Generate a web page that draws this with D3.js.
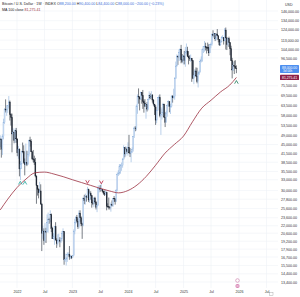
<!DOCTYPE html>
<html><head><meta charset="utf-8">
<script src="https://cdn.jsdelivr.net/npm/d3@7/dist/d3.min.js"></script>
<style>body{margin:0;background:#fff}svg{display:block;font-family:"Liberation Sans",Arial,sans-serif}</style>
</head><body><svg id="c" width="300" height="297"></svg>
<script>
// ---- data (prices in thousands USD, weekly bars starting Monday 2021-09-13) ----
const startWeek = "2021-09-13";
const firstOpen = 46.0;
const high = [
 48.8,47.3,49.2,56.5,62.0,67.0,63.7,63.5,69.0,66.3,59.3,59.1,51.9,50.6,51.9,52.1,
 47.5,44.5,43.5,38.9,42.6,45.8,44.7,39.8,45.4,42.6,42.4,46.9,48.2,47.2,42.4,42.9,40.8,40.0,34.3,31.3,30.6,32.4,31.7,26.9,22.0,21.5,22.5,21.6,24.3,24.7,23.6,25.2,24.5,21.8,20.6,21.8,22.7,19.7,20.4,20.5,19.9,19.7,21.0,21.5,21.0,17.2,16.7,17.4,17.4,18.4,17.0,16.9,
 17.0,21.3,23.4,23.9,24.2,23.4,25.2,25.2,23.9,22.6,28.4,28.9,29.2,28.8,31.0,30.5,30.0,29.8,28.7,27.7,28.2,28.4,27.4,26.7,31.4,31.3,31.5,31.8,30.4,30.0,30.0,30.2,29.7,26.8,28.2,26.1,27.0,27.5,28.0,28.6,27.9,30.4,35.2,35.9,37.9,37.9,38.4,40.0,44.7,43.4,44.4,43.8,
 45.9,49.0,43.6,42.8,43.9,48.5,52.8,52.9,64.0,70.0,73.8,68.9,71.7,71.3,72.8,66.9,67.1,64.7,65.5,67.4,71.9,70.6,72.0,70.2,67.2,64.0,63.8,61.0,68.4,69.4,70.0,62.7,61.8,65.0,64.5,59.8,60.7,64.1,66.5,65.5,64.5,69.4,69.5,73.6,81.5,93.5,99.6,98.7,104.0,105.0,108.3,99.9,99.0,
 102.7,106.4,109.6,106.5,102.5,98.8,99.5,96.5,94.4,85.3,87.5,88.8,88.5,86.1,86.5,95.8,97.9,104.9,106.7,112.0,110.4,106.8,110.5,108.9,108.5,110.5,119.5,123.2,120.2,119.8,119.3,124.5,117.6,113.6,113.4,116.8,117.9,115.4,125.7,126.2,116.0,113.9,116.4,110.8,107.5,96.6,93.0,94.2,94.6,90.4
];
const low = [
 44.0,40.1,41.0,47.1,54.0,59.7,58.0,59.5,62.3,55.6,53.2,42.0,46.8,45.5,45.6,45.7,
 40.6,39.7,34.0,32.9,36.3,41.7,38.0,34.3,37.4,37.2,37.6,40.5,44.2,42.1,39.2,38.5,37.6,33.7,26.7,28.7,28.0,29.3,26.6,17.6,19.6,18.6,19.0,18.9,20.8,20.7,22.4,22.7,20.8,19.6,19.5,18.6,19.3,18.1,18.5,19.1,18.2,18.9,19.2,20.0,15.6,16.0,15.5,16.0,16.9,16.3,16.4,16.4,
 16.6,16.9,20.4,22.3,22.6,21.4,21.5,22.8,21.9,19.6,21.9,26.6,26.5,27.2,28.2,27.1,26.9,27.7,25.8,26.4,25.9,26.6,25.4,24.8,26.3,29.5,29.7,30.0,29.5,28.9,28.6,28.8,25.2,25.8,25.4,25.4,24.9,26.1,26.0,27.2,26.5,27.1,29.8,34.1,34.5,34.8,35.7,36.7,39.5,40.2,40.5,41.5,
 40.8,41.7,40.3,38.5,41.8,42.3,47.7,50.6,50.9,59.0,64.5,60.8,66.7,64.5,61.6,59.6,62.8,56.5,60.2,60.8,66.6,67.1,68.5,65.1,63.4,58.4,53.5,54.3,60.6,63.5,57.2,49.0,56.1,57.8,57.2,52.5,54.6,57.5,62.7,59.8,58.9,62.4,65.1,67.5,66.8,80.2,89.4,90.8,94.0,94.2,92.1,92.6,91.2,
 91.2,89.3,99.5,97.7,91.2,94.1,93.4,78.2,80.1,76.6,81.2,81.6,77.2,74.4,83.0,85.1,92.8,93.4,100.8,102.0,103.1,100.4,102.7,98.2,100.9,105.1,107.5,115.7,114.7,112.0,112.7,116.8,110.7,107.3,107.3,110.6,114.4,108.6,111.9,104.0,103.5,106.9,106.3,98.9,94.0,80.6,86.1,83.8,87.6,84.4
];
const close = [
 47.3,43.2,48.2,54.7,61.5,61.0,61.3,63.3,65.5,58.6,57.2,49.4,50.1,46.7,50.8,47.3,
 41.9,43.1,36.3,37.9,42.4,42.2,38.4,37.7,38.4,37.8,41.3,46.8,46.4,42.2,39.7,39.5,38.5,34.1,31.3,30.3,29.4,29.9,26.6,20.6,21.0,19.3,20.9,20.8,22.6,23.3,23.2,24.3,21.5,19.6,20.0,21.8,19.4,18.8,19.3,19.4,19.2,19.6,20.6,20.9,16.3,16.3,16.4,17.1,17.1,16.7,16.8,16.6,
 16.9,20.9,22.7,23.7,22.9,21.8,24.6,23.6,22.4,22.1,28.0,27.5,28.5,28.3,30.3,27.6,29.2,28.7,26.9,26.8,28.1,27.1,25.9,26.3,30.5,30.6,30.2,30.3,29.8,29.3,29.0,29.4,26.1,26.0,25.9,25.8,26.5,26.3,28.0,27.9,27.2,30.0,34.5,35.0,37.0,37.4,37.5,39.5,43.8,41.4,43.0,42.3,
 43.9,41.8,41.6,42.1,43.0,48.3,52.1,51.7,63.1,68.9,68.4,67.2,71.3,69.4,65.7,64.9,63.1,63.9,61.5,66.9,69.3,67.8,69.6,66.6,64.3,62.7,55.8,60.8,68.2,68.2,58.1,58.7,59.5,64.2,57.3,54.8,59.1,63.6,65.6,62.8,62.9,69.0,67.9,68.8,80.4,89.9,97.9,97.3,101.1,104.3,95.1,93.7,98.3,
 94.5,101.3,102.6,97.7,96.5,96.1,96.2,94.3,80.7,82.6,86.1,82.4,78.4,83.8,85.1,93.8,94.3,104.1,106.5,107.0,105.8,105.7,105.6,100.9,108.4,108.9,119.1,117.3,119.4,114.2,119.3,117.4,113.5,108.3,111.2,115.3,115.3,112.2,123.5,115.1,108.6,114.5,110.6,104.7,94.3,86.8,90.4,89.4,88.2,88.0
];
// moving-average line
const maDates = ["2021-09-13","2021-11-01","2022-01-01","2022-03-01","2022-05-01","2022-07-01","2022-09-01","2022-11-01","2023-01-01","2023-03-01","2023-05-01","2023-07-01","2023-09-01","2023-11-01","2024-01-01","2024-03-01","2024-05-01","2024-07-01","2024-09-01","2024-11-01","2025-01-01","2025-03-01","2025-05-01","2025-07-01","2025-09-01","2025-11-01","2025-12-15"];
const maValues = [25.3,27.8,30.8,33.2,35.1,35.3,34.7,33.9,33.0,32.2,31.4,30.6,29.9,29.4,30.0,31.5,34.0,37.5,41.7,45.0,48.5,55.0,62.0,66.5,71.5,76.0,81.3];
// signal markers
const upMarkDates = ["2022-02-07"]; const upMarkValues = [32.1];
const downMarkDates = ["2023-04-10","2023-07-10"]; const downMarkValues = [32.4,32.3];
const lastUpDates = ["2025-12-15"]; const lastUpValues = [78.0];
// axis ticks
const priceTicks = [146,134,124,113,104,96.5,75.5,69.5,63.5,58,53.5,49,45,41.5,38.5,35.5,33,30,27.8,25.6,23.6,22,20.6,19.2,17.9,16.7,15.5,14.4,13.4];
const priceLabels = ["146,000.00","134,000.00","124,000.00","113,000.00","104,000.00","96,500.00","75,500.00","69,500.00","63,500.00","58,000.00","53,500.00","49,000.00","45,000.00","41,500.00","38,500.00","35,500.00","33,000.00","30,000.00","27,800.00","25,600.00","23,600.00","22,000.00","20,600.00","19,200.00","17,900.00","16,700.00","15,500.00","14,400.00","13,400.00"];
const timeTickDates = ["2022-01-01","2022-07-01","2023-01-01","2023-07-01","2024-01-01","2024-07-01","2025-01-01","2025-07-01","2026-01-01","2026-07-01"];
const timeLabels = ["2022","Jul","2023","Jul","2024","Jul","2025","Jul","2026","Jul"];
const lastPriceLabel = "88,000.00", countdownLabel = "3d 04h", maLabel = "81,275.41";

// ---- drawing ----
const svg = d3.select("#c");
const plotR = 278;
const parse = d3.utcParse("%Y-%m-%d");
const x = d3.scaleUtc().domain([parse("2022-01-01"), parse("2026-01-01")]).range([17, 239]);
const y = d3.scaleLog().domain([146, 13.4]).range([11, 282]);

const start = parse(startWeek);
const bars = close.map((c, i) => ({
  date: d3.utcWeek.offset(start, i),
  o: i === 0 ? firstOpen : close[i - 1], h: high[i], l: low[i], c
}));

svg.append("defs").append("clipPath").attr("id", "clip")
  .append("rect").attr("x", 0).attr("y", 0).attr("width", plotR).attr("height", 288);

// grid
const grid = svg.append("g").attr("stroke", "#eef1f6").attr("stroke-width", 0.6);
grid.selectAll(".gy").data(priceTicks).join("line")
  .attr("x1", 0).attr("x2", plotR).attr("y1", d => y(d)).attr("y2", d => y(d));
grid.selectAll(".gx").data(timeTickDates).join("line")
  .attr("x1", d => x(parse(d))).attr("x2", d => x(parse(d))).attr("y1", 0).attr("y2", 288);

const plot = svg.append("g").attr("clip-path", "url(#clip)");

// candles
const upWick = "#8cb0dc", upBody = "#d6e5f6", dnCol = "#1f2733";
plot.selectAll(".wick").data(bars).join("line")
  .attr("x1", d => x(d.date)).attr("x2", d => x(d.date))
  .attr("y1", d => y(d.h)).attr("y2", d => y(d.l))
  .attr("stroke", d => d.c >= d.o ? upWick : dnCol).attr("stroke-width", 0.6);
plot.selectAll(".body").data(bars).join("rect")
  .attr("x", d => x(d.date) - 0.5).attr("width", 1)
  .attr("y", d => y(Math.max(d.o, d.c)))
  .attr("height", d => Math.max(0.6, y(Math.min(d.o, d.c)) - y(Math.max(d.o, d.c))))
  .attr("fill", d => d.c >= d.o ? upBody : dnCol)
  .attr("stroke", d => d.c >= d.o ? upWick : dnCol).attr("stroke-width", 0.3);

// MA line
const maPts = maDates.map((d, i) => ({ date: parse(d), v: maValues[i] }));
plot.append("path").datum(maPts)
  .attr("d", d3.line().x(d => x(d.date)).y(d => y(d.v)).curve(d3.curveMonotoneX))
  .attr("fill", "none").attr("stroke", "#9b2f3f").attr("stroke-width", 0.8);

// markers
function chevron(g, cx, cy, dir, col) {
  const h = 1.6 * dir;
  g.append("path").attr("d", `M${cx - 1.8},${cy + h} L${cx},${cy - h} L${cx + 1.8},${cy + h}`)
    .attr("fill", "none").attr("stroke", col).attr("stroke-width", 0.8);
}
const mk = svg.append("g");
upMarkDates.forEach((d, i) => {
  const cx = x(parse(d)), cy = y(upMarkValues[i]);
  chevron(mk, cx - 2.3, cy, 1, "#22a39a"); chevron(mk, cx + 2.3, cy, 1, "#22a39a");
});
downMarkDates.forEach((d, i) => {
  chevron(mk, x(parse(d)), y(downMarkValues[i]), -1, "#b5223f");
});
lastUpDates.forEach((d, i) => {
  chevron(mk, x(parse(d)), y(lastUpValues[i]), 1, "#1f7a5c");
});

// event icons near bottom
const evX = x(parse("2025-12-22"));
svg.append("circle").attr("cx", evX).attr("cy", 280.5).attr("r", 1.8)
  .attr("fill", "#fff").attr("stroke", "#c977a6").attr("stroke-width", 0.6);
svg.append("circle").attr("cx", evX).attr("cy", 286).attr("r", 2.1).attr("fill", "#d884b4");
svg.append("rect").attr("x", evX - 1.2).attr("y", 285.6).attr("width", 2.4).attr("height", 0.8).attr("fill", "#fff");

// price axis
const ya = svg.append("g").attr("transform", `translate(${plotR + 1},0)`)
  .call(d3.axisRight(y).tickValues(priceTicks).tickFormat((d, i) => priceLabels[i]).tickSize(0).tickPadding(2));
ya.select(".domain").remove();
ya.selectAll("text").attr("font-size", 3.6).attr("fill", "#333").attr("font-family", "Liberation Sans, Arial, sans-serif");
svg.append("text").attr("x", 285).attr("y", 6).attr("font-size", 3.6).attr("fill", "#333").text("USD");

// last price label
const lp = y(close[close.length - 1]);
svg.append("rect").attr("x", 280).attr("y", lp - 3.5).attr("width", 19).attr("height", 8).attr("rx", 0.6).attr("fill", "#4d8ff0");
svg.append("text").attr("x", 282).attr("y", lp + 0.3).attr("font-size", 3.4).attr("fill", "#fff").text(lastPriceLabel);
svg.append("text").attr("x", 283).attr("y", lp + 3.7).attr("font-size", 3.0).attr("fill", "#fff").text(countdownLabel);
const mp = y(maValues[maValues.length - 1]);
svg.append("rect").attr("x", 280).attr("y", mp - 2.6).attr("width", 19).attr("height", 5.2).attr("rx", 0.6).attr("fill", "#8c1f48");
svg.append("text").attr("x", 282).attr("y", mp + 1.2).attr("font-size", 3.4).attr("fill", "#fff").text(maLabel);

// time axis
const xa = svg.append("g").attr("transform", "translate(0,290)")
  .call(d3.axisBottom(x).tickValues(timeTickDates.map(parse)).tickFormat((d, i) => timeLabels[i]).tickSize(0).tickPadding(0.5));
xa.select(".domain").remove();
xa.selectAll("text").attr("font-size", 3.6).attr("fill", "#333").attr("font-family", "Liberation Sans, Arial, sans-serif");

// bottom-right small icon
svg.append("rect").attr("x", 269.5).attr("y", 292.5).attr("width", 3.5).attr("height", 2.8).attr("fill", "none").attr("stroke", "#999").attr("stroke-width", 0.4);

// header legend
const last = bars[bars.length - 1];
const fmt = d3.format(",.2f");
const chg = (last.c - last.o) * 1000, pct = (last.c - last.o) / last.o * 100;
const h1 = svg.append("text").attr("x", 2).attr("y", 5).attr("font-size", 3.6).attr("fill", "#222");
h1.append("tspan").text("Bitcoin / U.S. Dollar · 1W · INDEX  ");
const vcol = "#3a6fd8";
h1.append("tspan").attr("fill", "#222").text("O");
h1.append("tspan").attr("fill", vcol).text(fmt(last.o * 1000) + " ");
h1.append("tspan").attr("fill", "#222").text("H");
h1.append("tspan").attr("fill", vcol).text(fmt(last.h * 1000) + " ");
h1.append("tspan").attr("fill", "#222").text("L");
h1.append("tspan").attr("fill", vcol).text(fmt(last.l * 1000) + " ");
h1.append("tspan").attr("fill", "#222").text("C");
h1.append("tspan").attr("fill", vcol).text(fmt(last.c * 1000) + " " + (chg < 0 ? "−" : "+") + fmt(Math.abs(chg)) + " (" + (pct < 0 ? "−" : "+") + Math.abs(pct).toFixed(2) + "%)");
const h2 = svg.append("text").attr("x", 2).attr("y", 10.5).attr("font-size", 3.6).attr("fill", "#222");
h2.append("tspan").text("MA 100 close  ");
h2.append("tspan").attr("fill", "#9b2f3f").text(maLabel);
</script></body></html>
